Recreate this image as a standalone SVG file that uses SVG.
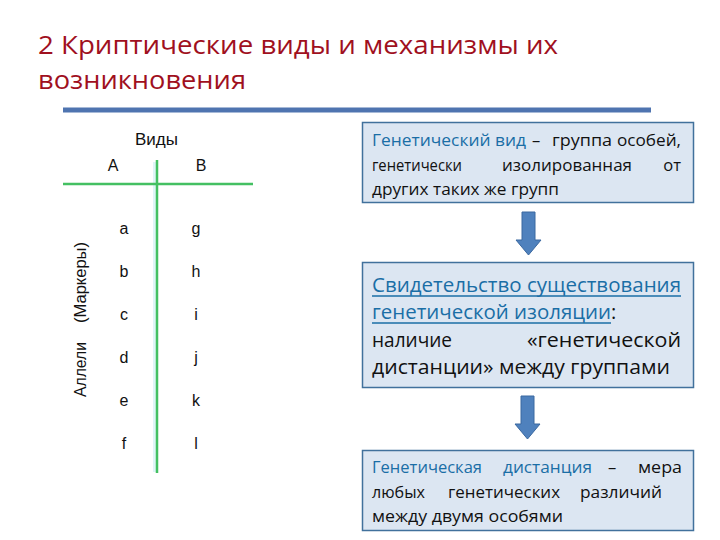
<svg xmlns="http://www.w3.org/2000/svg" width="720" height="540" viewBox="0 0 720 540">
<style>
.title{font-family:"Open Sans","Noto Sans",sans-serif;font-size:26px;fill:#a0101e}
.tbl{font-family:"Liberation Sans",Arial,sans-serif;font-size:16px;fill:#111}
.box{fill:#dce6f2;stroke:#41719c;stroke-width:1.5}
.t1{font-family:"Open Sans","Noto Sans",sans-serif;font-size:16.5px;fill:#111}
.t2{font-family:"Open Sans","Noto Sans",sans-serif;font-size:20px;fill:#111}
.hl{fill:#1a6ea6}
.ul{stroke:#1a6ea6;stroke-width:1.6}
.green{stroke:#44c062;stroke-width:2.5;fill:none}
.arrow{fill:#4f81bd;stroke:#3a68a0;stroke-width:1}
</style>
<defs>
<path id="arr" d="M-6.5,0 H6.5 V28 H12.5 L0,43 L-12.5,28 H-6.5 Z"/>
</defs>
<g id="title">
<text class="title" x="38" y="54" textLength="520" lengthAdjust="spacingAndGlyphs">2 Криптические виды и механизмы их</text>
<text class="title" x="38" y="89" textLength="208" lengthAdjust="spacingAndGlyphs">возникновения</text>
<line x1="63" y1="110" x2="651" y2="110" stroke="#4f74b0" stroke-width="5"/>
</g>
<g id="table">
<line x1="154.5" y1="162" x2="154.5" y2="472" stroke="#dff5f8" stroke-width="3"/>
<line class="green" x1="63" y1="184" x2="253" y2="184"/>
<line class="green" x1="157" y1="160" x2="157" y2="473"/>
<text class="tbl" x="156.5" y="145" text-anchor="middle" textLength="43" lengthAdjust="spacingAndGlyphs">Виды</text>
<text class="tbl" x="113" y="171" text-anchor="middle">А</text>
<text class="tbl" x="201" y="171" text-anchor="middle">В</text>
<g text-anchor="middle">
<text class="tbl" x="124" y="234">a</text><text class="tbl" x="196" y="234">g</text>
<text class="tbl" x="124" y="277">b</text><text class="tbl" x="196" y="277">h</text>
<text class="tbl" x="124" y="320">c</text><text class="tbl" x="196" y="320">i</text>
<text class="tbl" x="124" y="363">d</text><text class="tbl" x="196" y="363">j</text>
<text class="tbl" x="124" y="406">e</text><text class="tbl" x="196" y="406">k</text>
<text class="tbl" x="124" y="449">f</text><text class="tbl" x="196" y="449">l</text>
</g>
<text class="tbl" transform="translate(86,369.5) rotate(-90)" text-anchor="middle" textLength="55" lengthAdjust="spacingAndGlyphs">Аллели</text>
<text class="tbl" transform="translate(86,282.5) rotate(-90)" text-anchor="middle" textLength="81" lengthAdjust="spacingAndGlyphs">(Маркеры)</text>
</g>
<g id="box1">
<rect class="box" x="362.5" y="122.5" width="331" height="80"/>
<text class="t1" y="146">
<tspan class="hl" x="372" textLength="154" lengthAdjust="spacingAndGlyphs">Генетический вид</tspan>
<tspan x="532">–</tspan>
<tspan x="552" textLength="60" lengthAdjust="spacingAndGlyphs">группа</tspan>
<tspan x="617" textLength="64" lengthAdjust="spacingAndGlyphs">особей,</tspan>
</text>
<text class="t1" y="171">
<tspan x="372" textLength="90" lengthAdjust="spacingAndGlyphs">генетически</tspan>
<tspan x="502" textLength="130" lengthAdjust="spacingAndGlyphs">изолированная</tspan>
</text>
<text class="t1" x="681" y="171" text-anchor="end">от</text>
<text class="t1" x="372" y="195" textLength="187" lengthAdjust="spacingAndGlyphs">других таких же групп</text>
</g>
<g id="box2">
<rect class="box" x="362.5" y="262.5" width="331" height="125"/>
<text class="t2" y="292">
<tspan class="hl" x="372" textLength="309" lengthAdjust="spacingAndGlyphs">Свидетельство существования</tspan>
</text>
<line class="ul" x1="372" y1="296" x2="681" y2="296"/>
<text class="t2" y="319"><tspan class="hl" x="372" textLength="239" lengthAdjust="spacingAndGlyphs">генетической изоляции</tspan><tspan>:</tspan></text>
<line class="ul" x1="372" y1="323" x2="611" y2="323"/>
<text class="t2" y="347">
<tspan x="372" textLength="80" lengthAdjust="spacingAndGlyphs">наличие</tspan>
<tspan x="527" textLength="154" lengthAdjust="spacingAndGlyphs">«генетической</tspan>
</text>
<text class="t2" x="372" y="374" textLength="298" lengthAdjust="spacingAndGlyphs">дистанции» между группами</text>
</g>
<g id="box3">
<rect class="box" x="362.5" y="450.5" width="331" height="80"/>
<text class="t1" y="473">
<tspan class="hl" x="372" textLength="110" lengthAdjust="spacingAndGlyphs">Генетическая</tspan>
<tspan class="hl" x="503" textLength="89" lengthAdjust="spacingAndGlyphs">дистанция</tspan>
<tspan x="608">–</tspan>
<tspan x="638" textLength="44" lengthAdjust="spacingAndGlyphs">мера</tspan>
</text>
<text class="t1" y="498">
<tspan x="372" textLength="53" lengthAdjust="spacingAndGlyphs">любых</tspan>
<tspan x="448" textLength="112" lengthAdjust="spacingAndGlyphs">генетических</tspan>
<tspan x="580" textLength="82" lengthAdjust="spacingAndGlyphs">различий</tspan>
</text>
<text class="t1" x="372" y="522" textLength="191" lengthAdjust="spacingAndGlyphs">между двумя особями</text>
</g>
<g id="connectors">
<use href="#arr" class="arrow" transform="translate(528.5,212)"/>
<use href="#arr" class="arrow" transform="translate(527.5,396)"/>
</g>
</svg>
